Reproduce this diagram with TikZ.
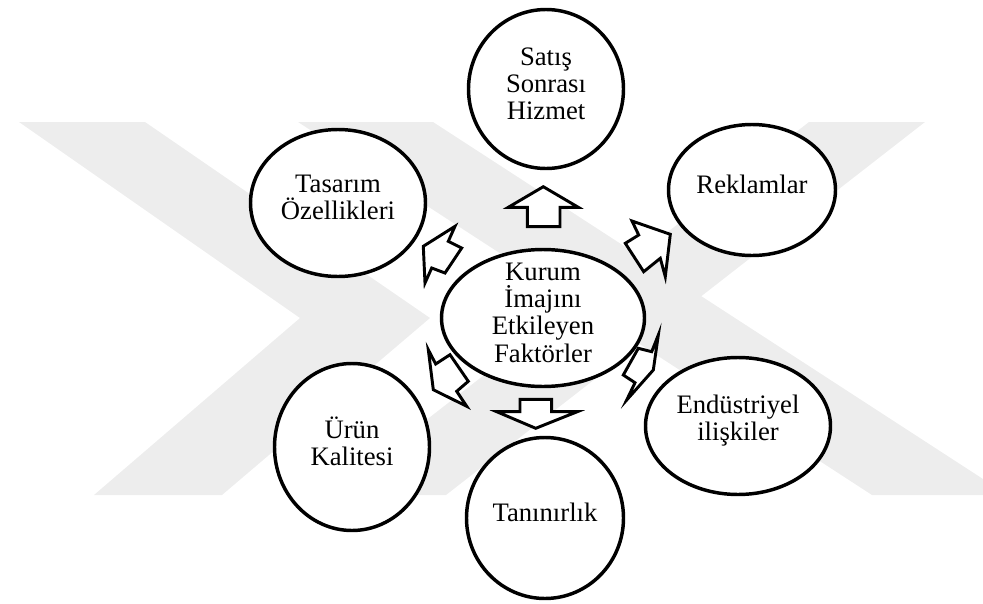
\documentclass[tikz,border=0pt]{standalone}
\usepackage{fontspec}
\setmainfont{Liberation Serif}
\usetikzlibrary{shapes.geometric}
\begin{document}
\begin{tikzpicture}[x=0.75pt,y=-0.75pt,
  bubble/.style={ellipse, draw=black, line width=2.6pt, fill=white, inner sep=0pt},
  bubbletext/.style={align=center, inner sep=0pt, yshift=4pt, font=\fontsize{20}{20.4}\selectfont},
  blockarrow/.style={draw=black, fill=white, line width=2.2pt, line join=miter, miter limit=20},
  logoband/.style={fill=black!7, draw=none}]
\useasboundingbox (0,0) rectangle (983,604);

% faint logo in the background
\fill[logoband] (19,122) -- (145,122) -- (430,318) -- (222,495) -- (94,495) -- (300,318) -- cycle;
\fill[logoband] (298,122) -- (433,122) -- (983,479) -- (983,495) -- (872,495) -- cycle;
\fill[logoband] (809,122) -- (925,122) -- (446,495) -- (330,495) -- cycle;

% ellipses
\node[bubble, minimum width=116.25pt, minimum height=119.25pt] (sat) at (546,89) {};
\node[bubble, minimum width=131.25pt, minimum height=110.25pt] (tas) at (338,203) {};
\node[bubble, minimum width=125.25pt, minimum height=98.25pt] (rek) at (752,190) {};
\node[bubble, minimum width=152.25pt, minimum height=102.75pt] (kur) at (543,318) {};
\node[bubble, minimum width=116.25pt, minimum height=125.25pt] (uru) at (352,447) {};
\node[bubble, minimum width=117.75pt, minimum height=120.75pt] (tan) at (545,518) {};
\node[bubble, minimum width=138.75pt, minimum height=102.75pt] (end) at (738,426) {};

% texts
\node[bubbletext] (satT) at (sat) {Satış\\Sonrası\\Hizmet};
\node[bubbletext] (tasT) at (tas) {Tasarım\\Özellikleri};
\node[bubbletext] (rekT) at (rek) {Reklamlar};
\node[bubbletext] (kurT) at (kur) {Kurum\\İmajını\\Etkileyen\\Faktörler};
\node[bubbletext] (uruT) at (uru) {Ürün\\Kalitesi};
\node[bubbletext] (tanT) at (tan) {Tanınırlık};
\node[bubbletext] (endT) at (end) {Endüstriyel\\ilişkiler};

% block arrows around the centre
\draw[blockarrow] (543.3,186.7) -- (578.3,207.3) -- (560,207.3) -- (560,226.7) -- (527.3,226.7) -- (527.3,207.3) -- (508.3,207.3) -- cycle;
\draw[blockarrow] (520,399.3) -- (551.7,399.3) -- (551.7,411.7) -- (577.3,411.7) -- (535.7,428.3) -- (496.7,411.7) -- (520,411.7) -- cycle;
\draw[blockarrow] (423.3,246.3) -- (455,226.3) -- (448.3,241.3) -- (461.7,248) -- (445,273) -- (431.7,268) -- (425,283) -- cycle;
\draw[blockarrow] (670.3,234.3) -- (665.3,276.7) -- (660.3,258.3) -- (643.7,271.7) -- (625.3,243.3) -- (638.7,235) -- (632,221) -- cycle;
\draw[blockarrow] (433.3,389.7) -- (428.3,349.7) -- (435.7,364) -- (450,354.7) -- (468.3,381.3) -- (456.7,391.3) -- (466.7,406.3) -- cycle;
\draw[blockarrow] (653.3,370) -- (626.7,400) -- (635,382.7) -- (623.3,375) -- (638.3,348.3) -- (651.7,351.7) -- (658.3,335) -- cycle;
\end{tikzpicture}
\end{document}
